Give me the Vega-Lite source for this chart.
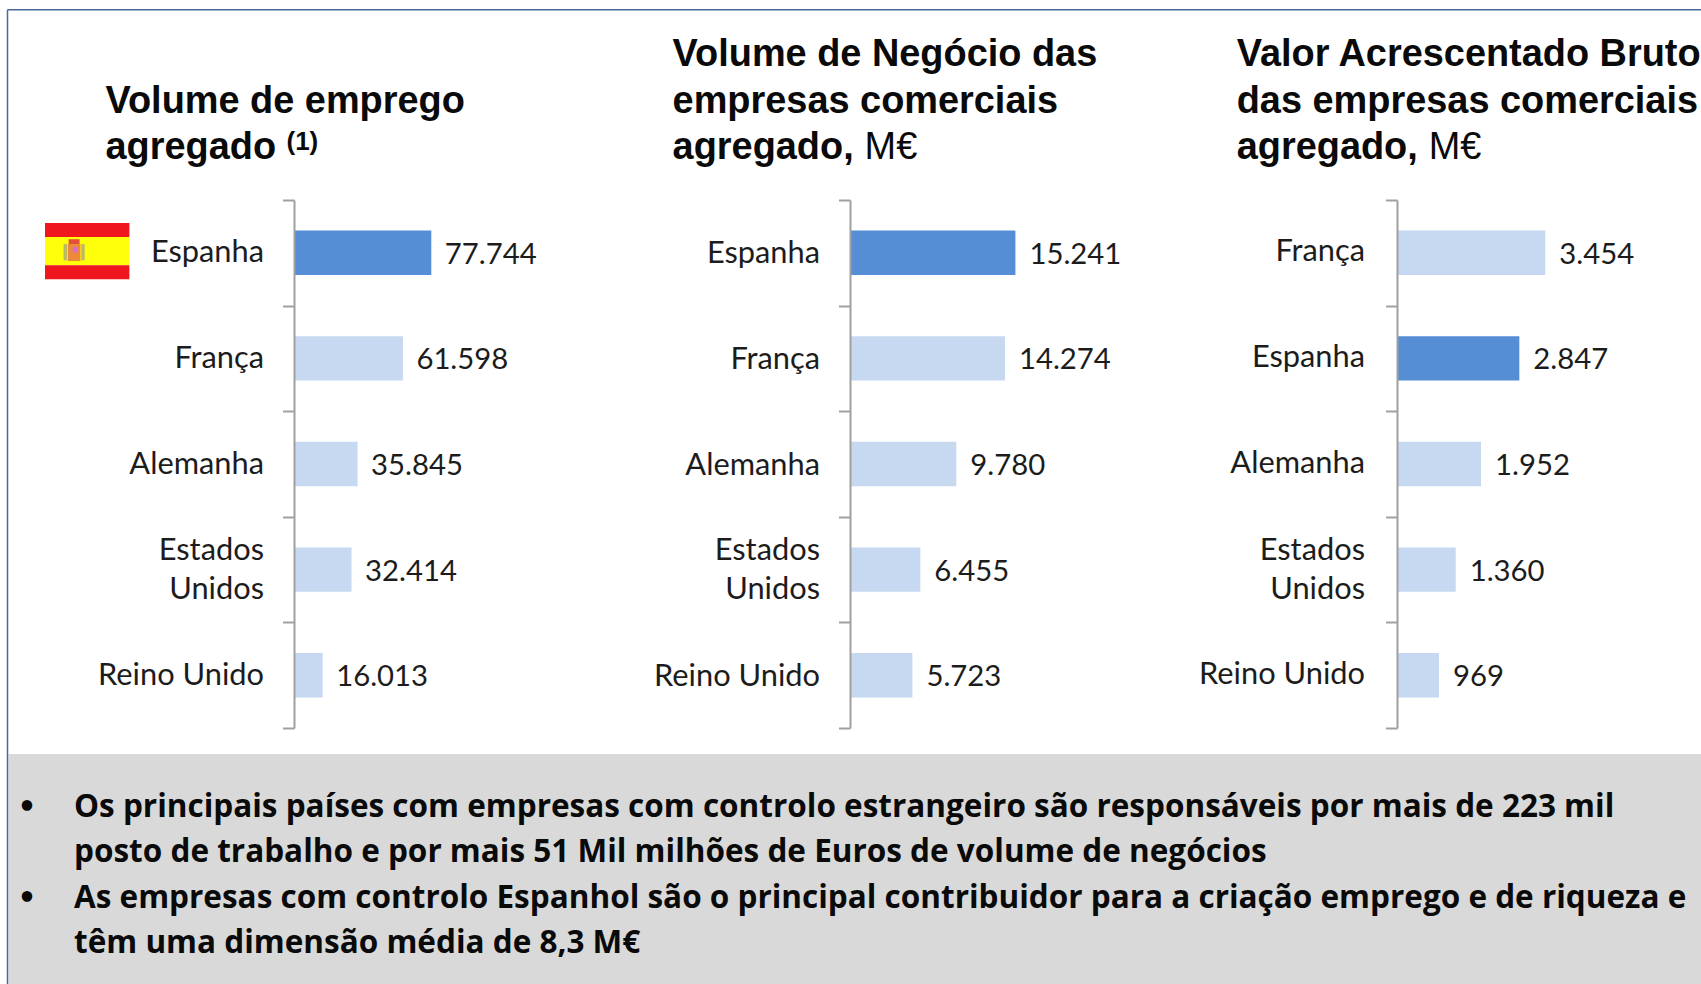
{"$schema":"https://vega.github.io/schema/vega-lite/v6.json","width":1701,"height":984,"padding":0,"autosize":{"type":"none"},"background":"white","config":{"view":{"stroke":null},"text":{"font":"Lato"}},
"datasets":{
"paises":[
{"painel":1,"pais":"Espanha","valor":77744,"rotulo":"77.744","grupo":"Espanha"},
{"painel":1,"pais":"França","valor":61598,"rotulo":"61.598","grupo":"Outros"},
{"painel":1,"pais":"Alemanha","valor":35845,"rotulo":"35.845","grupo":"Outros"},
{"painel":1,"pais":"Estados Unidos","valor":32414,"rotulo":"32.414","grupo":"Outros"},
{"painel":1,"pais":"Reino Unido","valor":16013,"rotulo":"16.013","grupo":"Outros"},
{"painel":2,"pais":"Espanha","valor":15241,"rotulo":"15.241","grupo":"Espanha"},
{"painel":2,"pais":"França","valor":14274,"rotulo":"14.274","grupo":"Outros"},
{"painel":2,"pais":"Alemanha","valor":9780,"rotulo":"9.780","grupo":"Outros"},
{"painel":2,"pais":"Estados Unidos","valor":6455,"rotulo":"6.455","grupo":"Outros"},
{"painel":2,"pais":"Reino Unido","valor":5723,"rotulo":"5.723","grupo":"Outros"},
{"painel":3,"pais":"França","valor":3454,"rotulo":"3.454","grupo":"Outros"},
{"painel":3,"pais":"Espanha","valor":2847,"rotulo":"2.847","grupo":"Espanha"},
{"painel":3,"pais":"Alemanha","valor":1952,"rotulo":"1.952","grupo":"Outros"},
{"painel":3,"pais":"Estados Unidos","valor":1360,"rotulo":"1.360","grupo":"Outros"},
{"painel":3,"pais":"Reino Unido","valor":969,"rotulo":"969","grupo":"Outros"}],
"titulos":[
{"painel":1,"linha":2,"texto":"Volume de emprego"},
{"painel":1,"linha":3,"texto":"agregado"},
{"painel":2,"linha":1,"texto":"Volume de Negócio das"},
{"painel":2,"linha":2,"texto":"empresas comerciais"},
{"painel":2,"linha":3,"texto":"agregado,"},
{"painel":3,"linha":1,"texto":"Valor Acrescentado Bruto"},
{"painel":3,"linha":2,"texto":"das empresas comerciais"},
{"painel":3,"linha":3,"texto":"agregado,"}],
"unidades":[{"painel":2,"linha":3,"texto":"M€"},{"painel":3,"linha":3,"texto":"M€"}],
"nota":[{"painel":1,"linha":3,"texto":"(1)"}],
"rodape":[
{"coluna":1,"linha":1,"texto":"Os principais países com empresas com controlo estrangeiro são responsáveis por mais de 223 mil"},
{"coluna":1,"linha":2,"texto":"posto de trabalho e por mais 51 Mil milhões de Euros de volume de negócios"},
{"coluna":1,"linha":3,"texto":"As empresas com controlo Espanhol são o principal contribuidor para a criação emprego e de riqueza e"},
{"coluna":1,"linha":4,"texto":"têm uma dimensão média de 8,3 M€"}],
"marcadores":[{"coluna":0,"linha":1,"texto":"•"},{"coluna":0,"linha":3,"texto":"•"}],
"bandeira":[
{"parte":"vermelho","x0":0,"x1":1,"y0":0,"y1":1},
{"parte":"amarelo","x0":0,"x1":1,"y0":1,"y1":3},
{"parte":"vermelho","x0":0,"x1":1,"y0":3,"y1":4},
{"parte":"coluna","x0":0.22,"x1":0.26,"y0":1.5,"y1":2.65},
{"parte":"coluna","x0":0.43,"x1":0.47,"y0":1.5,"y1":2.65},
{"parte":"coroa","x0":0.28,"x1":0.41,"y0":1.15,"y1":1.5},
{"parte":"escudo","x0":0.27,"x1":0.42,"y0":1.5,"y1":2.7},
{"parte":"centro","x0":0.33,"x1":0.39,"y0":1.7,"y1":2.1}],
"moldura":[{"x0":0,"x1":1,"y0":0,"y1":0},{"x0":0,"x1":0,"y0":0,"y1":1}],
"fundo":[{"x0":0,"x1":1,"y0":0,"y1":1}]
},
"resolve":{"scale":{"x":"independent","y":"independent","color":"independent"},"axis":{"x":"independent","y":"independent"}},
"layer":[
{"data":{"name":"fundo"},"mark":{"type":"rect","color":"#d9d9d9"},"encoding":{"x":{"field":"x0","type":"quantitative","axis":null,"scale":{"domain":[0,1],"range":[8.5,1701],"nice":false}},"x2":{"field":"x1"},"y":{"field":"y0","type":"quantitative","axis":null,"scale":{"domain":[0,1],"range":[754,984],"nice":false}},"y2":{"field":"y1"}}},
{"data":{"name":"moldura"},"mark":{"type":"rule","color":"#47699b","strokeWidth":1.5},"encoding":{"x":{"field":"x0","type":"quantitative","axis":null,"scale":{"domain":[0,1],"range":[7.5,1701],"nice":false}},"x2":{"field":"x1"},"y":{"field":"y0","type":"quantitative","axis":null,"scale":{"domain":[0,1],"range":[9.7,984],"nice":false}},"y2":{"field":"y1"}}},
{"data":{"name":"bandeira"},"mark":{"type":"rect"},"encoding":{"x":{"field":"x0","type":"quantitative","axis":null,"scale":{"domain":[0,1],"range":[45,129.4],"nice":false}},"x2":{"field":"x1"},"y":{"field":"y0","type":"quantitative","axis":null,"scale":{"domain":[0,4],"range":[223,279.3],"nice":false}},"y2":{"field":"y1"},"color":{"field":"parte","type":"nominal","legend":null,"scale":{"domain":["vermelho","amarelo","coluna","coroa","escudo","centro"],"range":["#f0161e","#ffff0a","#b8b86a","#e2503a","#ec8a3a","#d86ad0"]}}}},
{"data":{"name":"paises"},"transform":[{"filter":"datum.painel == 1"}],"mark":{"type":"bar"},"encoding":{"x":{"field":"valor","type":"quantitative","axis":null,"stack":false,"scale":{"domain":[0,77744],"range":[294.5,431.3],"nice":false}},"y":{"field":"pais","type":"nominal","sort":null,"axis":null,"scale":{"domain":["Espanha","França","Alemanha","Estados Unidos","Reino Unido"],"range":[200,728],"paddingInner":0.58,"paddingOuter":0.29}},"color":{"field":"grupo","type":"nominal","legend":null,"scale":{"domain":["Espanha","Outros"],"range":["#558ed5","#c6d9f1"]}}}},
{"data":{"name":"paises"},"transform":[{"filter":"datum.painel == 1"}],"mark":{"type":"text","align":"left","baseline":"middle","dx":13.5,"dy":2,"fontSize":29.3,"color":"#1c1c1c","font":"Lato"},"encoding":{"x":{"field":"valor","type":"quantitative","axis":null,"stack":false,"scale":{"domain":[0,77744],"range":[294.5,431.3],"nice":false}},"y":{"field":"pais","type":"nominal","sort":null,"scale":{"domain":["Espanha","França","Alemanha","Estados Unidos","Reino Unido"],"range":[200,728],"padding":0},"axis":{"orient":"left","offset":-294,"title":null,"domainColor":"#a0a0a0","domainWidth":2,"tickColor":"#a0a0a0","tickWidth":2,"tickSize":11.5,"tickBand":"extent","labelPadding":19,"labelFont":"Lato","labelFontSize":30.8,"labelColor":"#1c1c1c","labelLimit":300,"labelLineHeight":39,"labelOffset":{"condition":{"test":"datum.label == 'Estados Unidos'","value":-19.5},"value":0},"labelExpr":"datum.label == 'Estados Unidos' ? ['Estados','Unidos'] : datum.label","zindex":1}},"text":{"field":"rotulo","type":"nominal"}}},
{"data":{"name":"paises"},"transform":[{"filter":"datum.painel == 2"}],"mark":{"type":"bar"},"encoding":{"x":{"field":"valor","type":"quantitative","axis":null,"stack":false,"scale":{"domain":[0,15241],"range":[850.5,1015.4],"nice":false}},"y":{"field":"pais","type":"nominal","sort":null,"axis":null,"scale":{"domain":["Espanha","França","Alemanha","Estados Unidos","Reino Unido"],"range":[200,728],"paddingInner":0.58,"paddingOuter":0.29}},"color":{"field":"grupo","type":"nominal","legend":null,"scale":{"domain":["Espanha","Outros"],"range":["#558ed5","#c6d9f1"]}}}},
{"data":{"name":"paises"},"transform":[{"filter":"datum.painel == 2"}],"mark":{"type":"text","align":"left","baseline":"middle","dx":14,"dy":2,"fontSize":29.3,"color":"#1c1c1c","font":"Lato"},"encoding":{"x":{"field":"valor","type":"quantitative","axis":null,"stack":false,"scale":{"domain":[0,15241],"range":[850.5,1015.4],"nice":false}},"y":{"field":"pais","type":"nominal","sort":null,"scale":{"domain":["Espanha","França","Alemanha","Estados Unidos","Reino Unido"],"range":[200,728],"padding":0},"axis":{"orient":"left","offset":-850,"title":null,"domainColor":"#a0a0a0","domainWidth":2,"tickColor":"#a0a0a0","tickWidth":2,"tickSize":11.5,"tickBand":"extent","labelPadding":19,"labelFont":"Lato","labelFontSize":30.8,"labelColor":"#1c1c1c","labelLimit":300,"labelLineHeight":39,"labelOffset":{"condition":{"test":"datum.label == 'Estados Unidos'","value":-19.5},"value":1},"labelExpr":"datum.label == 'Estados Unidos' ? ['Estados','Unidos'] : datum.label","zindex":1}},"text":{"field":"rotulo","type":"nominal"}}},
{"data":{"name":"paises"},"transform":[{"filter":"datum.painel == 3"}],"mark":{"type":"bar"},"encoding":{"x":{"field":"valor","type":"quantitative","axis":null,"stack":false,"scale":{"domain":[0,3454],"range":[1397.5,1545.3],"nice":false}},"y":{"field":"pais","type":"nominal","sort":null,"axis":null,"scale":{"domain":["França","Espanha","Alemanha","Estados Unidos","Reino Unido"],"range":[200,728],"paddingInner":0.58,"paddingOuter":0.29}},"color":{"field":"grupo","type":"nominal","legend":null,"scale":{"domain":["Espanha","Outros"],"range":["#558ed5","#c6d9f1"]}}}},
{"data":{"name":"paises"},"transform":[{"filter":"datum.painel == 3"}],"mark":{"type":"text","align":"left","baseline":"middle","dx":14,"dy":2,"fontSize":29.3,"color":"#1c1c1c","font":"Lato"},"encoding":{"x":{"field":"valor","type":"quantitative","axis":null,"stack":false,"scale":{"domain":[0,3454],"range":[1397.5,1545.3],"nice":false}},"y":{"field":"pais","type":"nominal","sort":null,"scale":{"domain":["França","Espanha","Alemanha","Estados Unidos","Reino Unido"],"range":[200,728],"padding":0},"axis":{"orient":"left","offset":-1397,"title":null,"domainColor":"#a0a0a0","domainWidth":2,"tickColor":"#a0a0a0","tickWidth":2,"tickSize":11.5,"tickBand":"extent","labelPadding":21,"labelFont":"Lato","labelFontSize":30.8,"labelColor":"#1c1c1c","labelLimit":300,"labelLineHeight":39,"labelOffset":{"condition":{"test":"datum.label == 'Estados Unidos'","value":-19.5},"value":-1},"labelExpr":"datum.label == 'Estados Unidos' ? ['Estados','Unidos'] : datum.label","zindex":1}},"text":{"field":"rotulo","type":"nominal"}}},
{"data":{"name":"titulos"},"mark":{"type":"text","align":"left","baseline":"middle","font":"Liberation Sans","fontWeight":"bold","fontSize":37.9,"color":"#0a0a0a"},"encoding":{"x":{"field":"painel","type":"quantitative","axis":null,"scale":{"domain":[1,2,3],"range":[105.5,672.6,1236.7],"nice":false,"zero":false}},"y":{"field":"linha","type":"quantitative","axis":null,"scale":{"domain":[1,3],"range":[55,148],"nice":false,"zero":false}},"text":{"field":"texto","type":"nominal"}}},
{"data":{"name":"unidades"},"mark":{"type":"text","align":"left","baseline":"middle","dx":192,"font":"Liberation Sans","fontSize":37.9,"color":"#0a0a0a"},"encoding":{"x":{"field":"painel","type":"quantitative","axis":null,"scale":{"domain":[1,2,3],"range":[105.5,672.6,1236.7],"nice":false,"zero":false}},"y":{"field":"linha","type":"quantitative","axis":null,"scale":{"domain":[1,3],"range":[55,148],"nice":false,"zero":false}},"text":{"field":"texto","type":"nominal"}}},
{"data":{"name":"nota"},"mark":{"type":"text","align":"left","baseline":"middle","dx":181,"dy":-6,"font":"Liberation Sans","fontWeight":"bold","fontSize":26,"color":"#0a0a0a"},"encoding":{"x":{"field":"painel","type":"quantitative","axis":null,"scale":{"domain":[1,2,3],"range":[105.5,672.6,1236.7],"nice":false,"zero":false}},"y":{"field":"linha","type":"quantitative","axis":null,"scale":{"domain":[1,3],"range":[55,148],"nice":false,"zero":false}},"text":{"field":"texto","type":"nominal"}}},
{"data":{"name":"marcadores"},"mark":{"type":"text","align":"left","baseline":"middle","font":"Lato","fontWeight":"bold","fontSize":24,"color":"#0a0a0a"},"encoding":{"x":{"field":"coluna","type":"quantitative","axis":null,"scale":{"domain":[0,1],"range":[20,74],"nice":false,"zero":false}},"y":{"field":"linha","type":"quantitative","axis":null,"scale":{"domain":[1,4],"range":[806,942],"nice":false,"zero":false}},"text":{"field":"texto","type":"nominal"}}},
{"data":{"name":"rodape"},"mark":{"type":"text","align":"left","baseline":"middle","font":"Open Sans","fontWeight":"bold","fontSize":31.5,"color":"#0a0a0a"},"encoding":{"x":{"field":"coluna","type":"quantitative","axis":null,"scale":{"domain":[0,1],"range":[20,74],"nice":false,"zero":false}},"y":{"field":"linha","type":"quantitative","axis":null,"scale":{"domain":[1,4],"range":[808,944],"nice":false,"zero":false}},"text":{"field":"texto","type":"nominal"}}}
]}
